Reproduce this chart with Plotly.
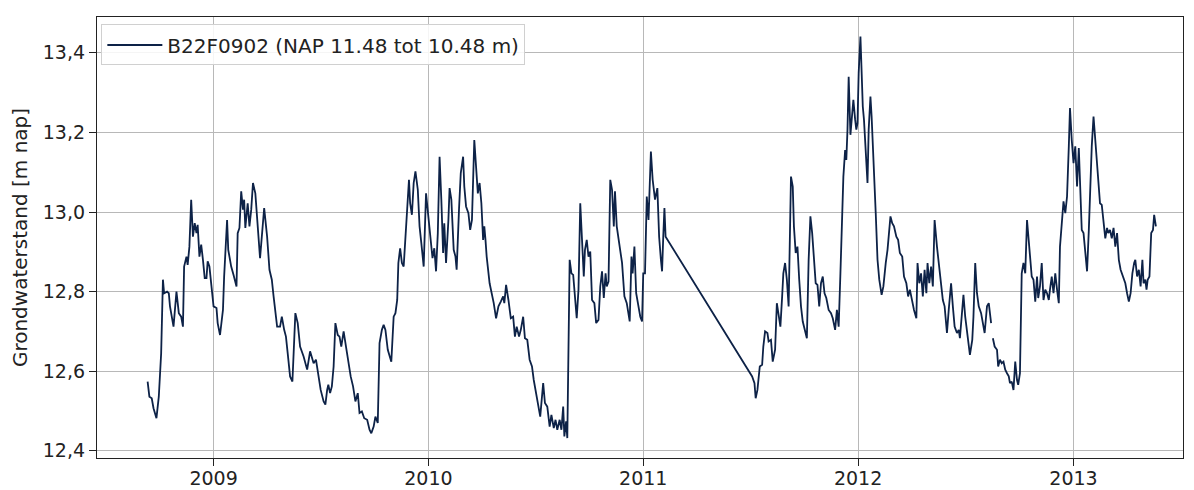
import pandas as pd
import plotly.graph_objects as go

# Day offsets from 2008-09-01 and groundwater levels (m NAP); None marks a data gap
start_date = "2008-09-01"
days = [10, 13, 17, 20, 25, 29, 33, 36, 38, 43, 46, 48, 54, 59, 63, 67, 70, 72, 76, 78,
        81, 84, 87, 90, 93, 95, 98, 101, 104, 107, 110, 112, 115, 118, 122, 127, 129, 133, 138, 140,
        145, 147, 152, 156, 161, 163, 166, 169, 172, 174, 176, 180, 183, 186, 189, 193, 196, 198, 201, 208,
        213, 217, 221, 224, 230, 235, 238, 242, 245, 248, 252, 256, 259, 261, 265, 269, 275, 281, 286, 292,
        296, 300, 304, 309, 312, 315, 317, 320, 323, 326, 329, 333, 336, 339, 343, 347, 351, 355, 359, 363,
        367, 370, 374, 378, 383, 387, 390, 394, 397, 401, 404, 408, 411, 414, 418, 421, 424, 428, 431, 434,
        436, 439, 442, 445, 448, 451, 454, 456, 459, 462, 465, 469, 472, 475, 479, 483, 487, 490, 494, 497,
        500, 503, 506, 509, 512, 514, 517, 521, 523, 526, 530, 533, 535, 539, 542, 546, 548, 551, 555, 558,
        561, 565, 568, 571, 574, 577, 580, 582, 584, 586, 591, 595, 598, 602, 606, 610, 614, 616, 619, 623,
        627, 631, 634, 637, 641, 644, 648, 651, 655, 659, 663, 666, 670, 674, 677, 682, 685, 689, 693, 696,
        700, 703, 706, 710, 713, 716, 718, 721, 723, 727, 730, 733, 736, 739, 742, 745, 748, 751, 753, 756,
        759, 762, 765, 769, 772, 776, 779, 782, 785, 788, 790, 793, 796, 799, 802, 804, 807, 812, 816, 820,
        824, 829, 832, 834, 837, 840, 844, 847, 850, 852, 855, 858, 861, 865, 868, 872, 876, 879, 882, 884,
        886, 888, 890, 1037, 1041, 1043, 1046, 1050, 1054, 1056, 1059, 1063, 1065, 1069, 1072, 1076, 1079, 1082,
        1085, 1088, 1090, 1093, 1096, 1099, 1103, 1106, 1108, 1111, 1114, 1117, 1120, 1123, 1127, 1130, 1133, 1136,
        1139, 1141, 1145, 1148, 1151, 1154, 1157, 1160, 1163, 1167, 1171, 1174, 1178, 1181, 1184, 1187, 1189, 1192,
        1195, 1197, 1199, 1201, 1204, 1206, 1209, 1212, 1214, 1216, 1218, 1221, 1223, 1225, 1227, 1230, 1233, 1235,
        1238, 1240, 1243, 1247, 1250, 1253, 1257, 1260, 1264, 1267, 1272, 1275, 1278, 1282, 1285, 1288, 1292, 1295,
        1299, 1302, 1305, 1309, 1312, 1316, 1318, 1321, 1324, 1327, 1330, 1333, 1335, 1338, 1341, 1344, 1347, 1351,
        1354, 1358, 1361, 1364, 1368, 1371, 1375, 1378, 1381, 1385, 1388, 1390, 1393, 1396, 1399, 1403, 1407, 1411,
        1413, 1416, 1419, 1422, 1426, 1429, 1432, 1436, 1439, 1443, 1444, 1446, 1449, 1453, 1455, 1458, 1461, 1464,
        1467, 1470, 1473, 1475, 1478, 1481, 1484, 1487, 1489, 1492, 1495, 1498, 1501, 1504, 1507, 1509, 1512, 1515,
        1518, 1521, 1523, 1526, 1529, 1532, 1535, 1538, 1541, 1543, 1546, 1549, 1552, 1555, 1558, 1560, 1563, 1566,
        1569, 1572, 1575, 1577, 1580, 1583, 1586, 1589, 1592, 1594, 1597, 1600, 1603, 1606, 1609, 1612, 1614, 1617,
        1620, 1623, 1626, 1628, 1631, 1634, 1637, 1640, 1642, 1645, 1648, 1651, 1654, 1657, 1660, 1663, 1665, 1668,
        1671, 1674, 1677, 1680, 1683, 1686, 1688, 1691, 1694, 1697, 1700, 1702, 1705, 1707, 1709, 1712, 1715, 1718,
        1720, 1723]

level = [12.574, 12.536, 12.532, 12.507, 12.482, 12.536, 12.645, 12.830, 12.796, 12.800, 12.796, 12.763, 12.712, 12.800, 12.746, 12.737, 12.712, 12.863, 12.888, 12.867,
         12.913, 13.031, 12.938, 12.972, 12.947, 12.968, 12.888, 12.918, 12.880, 12.834, 12.834, 12.876, 12.863, 12.821, 12.763, 12.759, 12.721, 12.691, 12.754, 12.838,
         12.980, 12.905, 12.863, 12.842, 12.813, 12.947, 12.960, 13.052, 13.006, 13.031, 12.960, 13.022, 12.964, 13.006, 13.073, 13.047, 12.989, 12.947, 12.884, 13.010,
         12.938, 12.855, 12.830, 12.788, 12.712, 12.712, 12.737, 12.704, 12.687, 12.645, 12.587, 12.574, 12.687, 12.746, 12.721, 12.662, 12.637, 12.604, 12.650, 12.620,
         12.629, 12.595, 12.553, 12.524, 12.516, 12.553, 12.566, 12.545, 12.562, 12.612, 12.721, 12.691, 12.687, 12.662, 12.700, 12.662, 12.620, 12.587, 12.562, 12.524,
         12.545, 12.495, 12.499, 12.482, 12.478, 12.453, 12.444, 12.461, 12.486, 12.470, 12.671, 12.704, 12.717, 12.704, 12.654, 12.637, 12.624, 12.737, 12.746, 12.779,
         12.872, 12.909, 12.872, 12.863, 12.930, 13.022, 13.081, 13.022, 12.993, 13.073, 13.102, 13.056, 12.964, 12.922, 12.863, 13.047, 12.989, 12.947, 12.884, 12.909,
         12.851, 12.947, 13.139, 13.031, 12.897, 12.972, 12.872, 12.980, 13.060, 13.031, 12.905, 12.888, 12.855, 13.006, 13.098, 13.139, 13.064, 13.014, 12.997, 12.955,
         12.980, 13.181, 13.114, 13.047, 13.073, 13.022, 12.930, 12.964, 12.930, 12.888, 12.821, 12.796, 12.771, 12.733, 12.763, 12.775, 12.788, 12.771, 12.817, 12.779,
         12.733, 12.737, 12.687, 12.712, 12.687, 12.704, 12.737, 12.683, 12.679, 12.629, 12.612, 12.578, 12.545, 12.503, 12.486, 12.570, 12.520, 12.511, 12.461, 12.490,
         12.457, 12.478, 12.453, 12.478, 12.453, 12.511, 12.436, 12.474, 12.432, 12.880, 12.846, 12.842, 12.796, 12.733, 12.805, 13.022, 12.930, 12.838, 12.905, 12.930,
         12.888, 12.901, 12.779, 12.771, 12.721, 12.729, 12.813, 12.851, 12.784, 12.846, 12.813, 12.825, 13.081, 13.056, 12.964, 13.052, 12.964, 12.913, 12.872, 12.788,
         12.771, 12.725, 12.888, 12.846, 12.913, 12.796, 12.759, 12.737, 12.725, 12.846, 12.846, 13.039, 12.980, 13.152, 13.081, 13.031, 13.060, 12.938, 12.880, 12.851,
         12.938, 13.010, 12.938, 12.587, 12.570, 12.532, 12.553, 12.612, 12.616, 12.662, 12.700, 12.696, 12.675, 12.679, 12.624, 12.654, 12.771, 12.746,
         12.712, 12.788, 12.846, 12.872, 12.830, 12.763, 13.089, 13.064, 12.964, 12.897, 12.913, 12.830, 12.763, 12.725, 12.700, 12.683, 12.880, 12.989,
         12.947, 12.897, 12.821, 12.817, 12.763, 12.821, 12.838, 12.796, 12.784, 12.754, 12.746, 12.733, 12.704, 12.754, 12.712, 12.846, 12.938, 13.089,
         13.156, 13.131, 13.207, 13.340, 13.194, 13.240, 13.282, 13.232, 13.207, 13.223, 13.349, 13.441, 13.324, 13.265, 13.232, 13.165, 13.073, 13.207,
         13.290, 13.240, 13.114, 12.997, 12.880, 12.830, 12.792, 12.813, 12.872, 12.905, 12.989, 12.972, 12.964, 12.938, 12.930, 12.897, 12.888, 12.838,
         12.821, 12.788, 12.805, 12.771, 12.754, 12.733, 12.872, 12.821, 12.846, 12.788, 12.855, 12.796, 12.872, 12.821, 12.863, 12.813, 12.980, 12.913,
         12.872, 12.830, 12.779, 12.763, 12.696, 12.754, 12.821, 12.763, 12.712, 12.696, 12.704, 12.683, 12.746, 12.792, 12.737, 12.687, 12.641, 12.679,
         12.737, 12.872, 12.796, 12.763, 12.746, 12.721, 12.696, 12.763, 12.771, 12.721, None, 12.683, 12.662, 12.654, 12.612, 12.629, 12.620, 12.624,
         12.604, 12.595, 12.587, 12.570, 12.574, 12.553, 12.624, 12.578, 12.566, 12.595, 12.846, 12.872, 12.846, 12.980, 12.922, 12.880, 12.838, 12.830,
         12.775, 12.838, 12.784, 12.813, 12.872, 12.779, 12.805, 12.796, 12.779, 12.805, 12.838, 12.796, 12.846, 12.805, 12.771, 12.913, 12.980, 13.027,
         12.997, 13.039, 13.165, 13.261, 13.181, 13.123, 13.165, 13.064, 13.161, 13.081, 12.955, 12.947, 12.897, 12.851, 12.955, 13.114, 13.165, 13.240,
         13.173, 13.123, 13.039, 13.022, 13.018, 12.980, 12.934, 12.960, 12.947, 12.955, 12.934, 12.960, 12.913, 12.947, 12.880, 12.855, 12.846, 12.830,
         12.821, 12.796, 12.775, 12.796, 12.846, 12.872, 12.880, 12.838, 12.855, 12.813, 12.880, 12.821, 12.830, 12.805, 12.830, 12.838, 12.947, 12.955,
         12.993, 12.964]

series_name = "B22F0902 (NAP 11.48 tot 10.48 m)"
y_title = "Grondwaterstand [m nap]"
year_ticks = ["2009-01-01", "2010-01-01", "2011-01-01", "2012-01-01", "2013-01-01"]
year_labels = ["2009", "2010", "2011", "2012", "2013"]
y_ticks = [12.4, 12.6, 12.8, 13.0, 13.2, 13.4]

dates = pd.Timestamp(start_date) + pd.to_timedelta(days, unit="D")

fig = go.Figure()
fig.add_trace(go.Scatter(
    x=dates, y=level, mode="lines", name=series_name,
    line=dict(color="#0d2247", width=1.8), connectgaps=False,
))

font_family = "DejaVu Sans"
# The page body adds an 8px offset, so the figure is sized to fit inside the window.
fig.update_layout(
    width=1178, height=482,
    margin=dict(l=89, r=3, t=9, b=32),
    paper_bgcolor="white", plot_bgcolor="white",
    font=dict(family=font_family, size=20, color="#222222"),
    separators=",.",
    showlegend=True,
    legend=dict(
        x=0.004, y=0.983, xanchor="left", yanchor="top",
        bgcolor="rgba(255,255,255,0.85)", bordercolor="#d0d0d0", borderwidth=1,
        itemwidth=55,
        font=dict(size=20, family=font_family, color="#222222"),
    ),
)
fig.update_xaxes(
    type="date", automargin=False,
    range=["2008-06-17", "2013-07-06"],
    tickvals=year_ticks, ticktext=year_labels,
    showgrid=True, gridcolor="#b8b8b8", gridwidth=1,
    showline=True, linecolor="#222222", linewidth=1.3, mirror=True,
    ticks="outside", ticklen=7, tickcolor="#222222",
    tickfont=dict(size=19), ticklabelstandoff=-4,
    zeroline=False,
)
fig.update_yaxes(
    range=[12.382, 13.49], automargin=False,
    tickvals=y_ticks, tickformat=".1f",
    showgrid=True, gridcolor="#b8b8b8", gridwidth=1,
    showline=True, linecolor="#222222", linewidth=1.3, mirror=True,
    ticks="outside", ticklen=7, tickcolor="#222222",
    tickfont=dict(size=19),
    zeroline=False,
    title=dict(text=y_title, standoff=12, font=dict(size=20)),
)

fig.write_html("out.html")
